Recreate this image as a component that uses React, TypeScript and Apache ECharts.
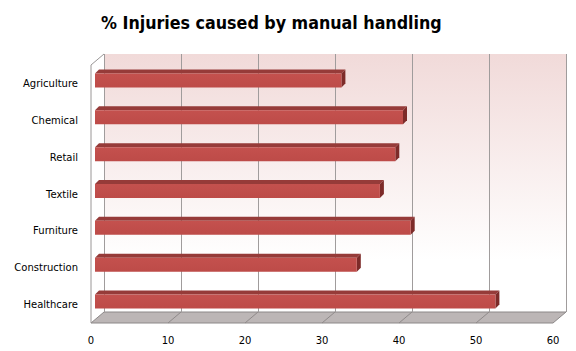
import React, { useEffect, useRef } from "react";
import * as echarts from "echarts";

const titleText = "% Injuries caused by manual handling";
const categories = ["Agriculture", "Chemical", "Retail", "Textile", "Furniture", "Construction", "Healthcare"];
const injuryPercent = [32, 40, 39, 37, 41, 34, 52];
const xTicks = [0, 10, 20, 30, 40, 50, 60];

const FRONT = { left: 91, top: 65, width: 462, height: 258 };
const DEPTH = { dx: 13, dy: -11 };
const BAR = { dx: 4, dy: -3, thick: 14, sideDx: 4, sideDy: -4 };

const X_MIN = xTicks[0];
const X_MAX = xTicks[xTicks.length - 1];
const X_STEP = xTicks[1] - xTicks[0];

export default function App() {
  const ref = useRef<HTMLDivElement>(null);
  useEffect(() => {
    if (!ref.current) return;
    const chart = echarts.init(ref.current, null, { renderer: "svg" });
    const fb = FRONT.top + FRONT.height;
    const fr = FRONT.left + FRONT.width;
    const pxPerUnit = FRONT.width / (X_MAX - X_MIN);

    const floorLines = xTicks.slice(1, -1).map((t) => {
      const x = FRONT.left + (t - X_MIN) * pxPerUnit;
      return {
        type: "line",
        z: 1,
        shape: { x1: x, y1: fb, x2: x + DEPTH.dx, y2: fb + DEPTH.dy },
        style: { stroke: "#8f8a8a", lineWidth: 1 },
        silent: true,
      };
    });

    const option: any = {
      animation: false,
      backgroundColor: "#ffffff",
      title: {
        text: titleText,
        left: 96,
        top: 9,
        textStyle: {
          fontFamily: "'DejaVu Sans Condensed', 'DejaVu Sans', sans-serif",
          fontWeight: "bold",
          fontSize: 17.7,
          color: "#000000",
        },
      },
      grid: [
        {
          left: FRONT.left,
          top: FRONT.top,
          width: FRONT.width,
          height: FRONT.height,
          containLabel: false,
        },
        {
          left: FRONT.left + DEPTH.dx,
          top: FRONT.top + DEPTH.dy,
          width: FRONT.width,
          height: FRONT.height,
          show: true,
          borderWidth: 0,
          backgroundColor: new echarts.graphic.LinearGradient(0, 0, 0, 1, [
            { offset: 0, color: "#f1dad9" },
            { offset: 0.8, color: "#ffffff" },
            { offset: 1, color: "#ffffff" },
          ]),
        },
      ],
      xAxis: [
        {
          type: "value",
          gridIndex: 0,
          min: X_MIN,
          max: X_MAX,
          interval: X_STEP,
          axisLine: { show: false },
          axisTick: { show: false },
          splitLine: { show: false },
          axisLabel: {
            margin: 12,
            fontFamily: "'DejaVu Sans', Verdana, sans-serif",
            fontSize: 10,
            color: "#000000",
          },
        },
        {
          type: "value",
          gridIndex: 1,
          min: X_MIN,
          max: X_MAX,
          interval: X_STEP,
          axisLine: { show: false },
          axisTick: { show: false },
          axisLabel: { show: false },
          splitLine: { show: true, lineStyle: { color: "#a09c9c", width: 1 } },
        },
      ],
      yAxis: [
        {
          type: "category",
          gridIndex: 0,
          data: categories,
          inverse: true,
          axisLine: { show: false },
          axisTick: { show: false },
          splitLine: { show: false },
          axisLabel: {
            margin: 13,
            fontFamily: "'DejaVu Sans', Verdana, sans-serif",
            fontSize: 10,
            color: "#000000",
          },
        },
        {
          type: "category",
          gridIndex: 1,
          data: categories,
          inverse: true,
          show: false,
        },
      ],
      graphic: [
        {
          type: "polygon",
          z: 0,
          shape: {
            points: [
              [FRONT.left, fb],
              [fr, fb],
              [fr + DEPTH.dx, fb + DEPTH.dy],
              [FRONT.left + DEPTH.dx, fb + DEPTH.dy],
            ],
          },
          style: { fill: "#bcb6b6", stroke: "#8c8888", lineWidth: 1 },
          silent: true,
        },
        ...floorLines,
        {
          type: "polyline",
          z: 1,
          shape: {
            points: [
              [FRONT.left, fb],
              [FRONT.left, FRONT.top],
              [FRONT.left + DEPTH.dx, FRONT.top + DEPTH.dy],
            ],
          },
          style: { stroke: "#9a9696", lineWidth: 1, fill: null },
          silent: true,
        },
      ],
      series: [
        {
          type: "custom",
          xAxisIndex: 0,
          yAxisIndex: 0,
          z: 5,
          encode: { x: 0, y: 1 },
          data: injuryPercent.map((v, i) => [v, i]),
          renderItem: (params: any, api: any) => {
            const v = api.value(0);
            const idx = api.value(1);
            const p0 = api.coord([0, idx]);
            const p1 = api.coord([v, idx]);
            const x0 = p0[0] + BAR.dx;
            const x1 = p1[0] + BAR.dx;
            const yc = p0[1] + BAR.dy;
            const yt = yc - BAR.thick / 2;
            const yb = yc + BAR.thick / 2;
            const sx = BAR.sideDx;
            const sy = BAR.sideDy;
            return {
              type: "group",
              children: [
                {
                  type: "polygon",
                  shape: { points: [[x0, yt], [x1, yt], [x1 + sx, yt + sy], [x0 + sx, yt + sy]] },
                  style: { fill: "#963b39" },
                },
                {
                  type: "polygon",
                  shape: { points: [[x1, yt], [x1 + sx, yt + sy], [x1 + sx, yb + sy], [x1, yb]] },
                  style: { fill: "#7d2b29" },
                },
                {
                  type: "rect",
                  shape: { x: x0, y: yt, width: x1 - x0, height: BAR.thick },
                  style: {
                    fill: new echarts.graphic.LinearGradient(0, 0, 0, 1, [
                      { offset: 0, color: "#c4514e" },
                      { offset: 1, color: "#bd4b48" },
                    ]),
                  },
                },
              ],
            };
          },
        },
      ],
    };
    chart.setOption(option);
    return () => chart.dispose();
  }, []);
  return (
    <div
      ref={ref}
      style={{ position: "fixed", left: 0, top: 0, width: 576, height: 351 }}
    />
  );
}
